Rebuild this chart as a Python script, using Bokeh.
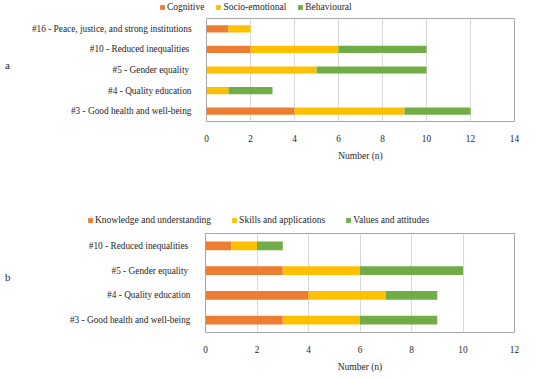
from bokeh.plotting import figure
from bokeh.layouts import column, row
from bokeh.models import FactorRange, Range1d, Legend, LegendItem, SingleIntervalTicker, ColumnDataSource, Div
from bokeh.embed import file_html
from bokeh.resources import INLINE

# ---- data: chart a ----
goals_a = ["#3 - Good health and well-being", "#4 - Quality education", "#5 - Gender equality ",
           "#10 - Reduced inequalities ", "#16 - Peace, justice, and strong institutions"]
cognitive = [4, 0, 0, 2, 1]
socio_emotional = [5, 1, 5, 4, 1]
behavioural = [3, 2, 5, 4, 0]
series_a = ["Cognitive", "Socio-emotional", "Behavioural"]

# ---- data: chart b ----
goals_b = ["#3 - Good health and well-being", "#4 - Quality education", "#5 - Gender equality ",
           "#10 - Reduced inequalities "]
knowledge = [3, 4, 3, 1]
skills = [3, 3, 3, 1]
values_att = [3, 2, 4, 1]
series_b = ["Knowledge and understanding", "Skills and applications", "Values and attitudes"]

COLORS = ["#ED7D31", "#FFC000", "#70AD47"]
FONT = "Liberation Serif"
TXT = "#262626"
LETTER_W = 18
W = 534


def make_source(goals, cols, names):
    data = {"goal": goals}
    for n, c in zip(names, cols):
        data[n] = c
    return ColumnDataSource(data)


def make_chart(src, goals, names, xmax, height, border_top, border_bottom):
    p = figure(width=W - 20, height=height, output_backend="svg", toolbar_location=None,
               y_range=FactorRange(*goals, range_padding=0), x_range=Range1d(0, xmax),
               min_border_left=177, min_border_right=28, min_border_top=border_top,
               min_border_bottom=border_bottom)
    p.hbar_stack(names, y="goal", height=0.35, color=COLORS, source=src, line_width=0)
    p.outline_line_color = "#a6a6a6"
    p.outline_line_width = 1
    p.ygrid.grid_line_color = None
    p.xgrid.grid_line_color = "#d9d9d9"
    p.xaxis.ticker = SingleIntervalTicker(interval=2)
    for ax in (p.xaxis[0], p.yaxis[0]):
        ax.axis_line_color = None
        ax.major_tick_line_color = None
        ax.minor_tick_line_color = None
        ax.major_label_text_font = FONT
        ax.major_label_text_font_size = "9.3px"
        ax.major_label_text_color = TXT
    p.yaxis.major_label_standoff = 9
    p.xaxis.major_label_standoff = 7
    p.xaxis.axis_label = "Number (n)"
    p.xaxis.axis_label_text_font = FONT
    p.xaxis.axis_label_text_font_size = "9.5px"
    p.xaxis.axis_label_text_font_style = "normal"
    p.xaxis.axis_label_text_color = TXT
    p.xaxis.axis_label_standoff = 6
    return p


def make_legend(src, goals, names, height, lx, ly, spacing):
    # legend strip: same stacked series, but the x range lies outside the data so no bars show
    p = figure(width=W, height=height, output_backend="svg", toolbar_location=None,
               x_range=Range1d(-2, -1), y_range=FactorRange(*goals),
               x_axis_location=None, y_axis_location=None,
               min_border_left=0, min_border_right=0, min_border_top=0, min_border_bottom=0)
    p.grid.visible = False
    p.outline_line_color = None
    rs = p.hbar_stack(names, y="goal", height=0.35, color=COLORS, source=src, line_width=0)
    legend = Legend(items=[LegendItem(label=n, renderers=[r]) for n, r in zip(names, rs)],
                    location=(lx, ly), orientation="horizontal",
                    border_line_color=None, background_fill_alpha=0,
                    padding=0, margin=0, spacing=spacing, glyph_width=6, glyph_height=6,
                    label_height=10, label_standoff=2,
                    label_text_font=FONT, label_text_font_size="9.5px", label_text_color=TXT)
    p.add_layout(legend)
    return p


def letter(text, height, top):
    return Div(text=text, width=LETTER_W, height=height,
               styles={"font-family": FONT, "font-size": "11px", "color": TXT,
                       "padding-top": f"{top}px", "line-height": "11px"})


src_a = make_source(goals_a, [cognitive, socio_emotional, behavioural], series_a)
src_b = make_source(goals_b, [knowledge, skills, values_att], series_b)

la = make_legend(src_a, goals_a, series_a, 14, 159, 2, 11)
pa = make_chart(src_a, goals_a, series_a, 14, 150, 4, 43)
lb = make_legend(src_b, goals_b, series_b, 53, 87, 2, 20)
pb = make_chart(src_b, goals_b, series_b, 12, 147, 6, 37)

layout = column(la,
                row(letter("a", 150, 41), pa, spacing=0),
                lb,
                row(letter("b", 147, 40), pb, spacing=0), spacing=0)
open("out.html", "w").write(file_html(layout, INLINE))
